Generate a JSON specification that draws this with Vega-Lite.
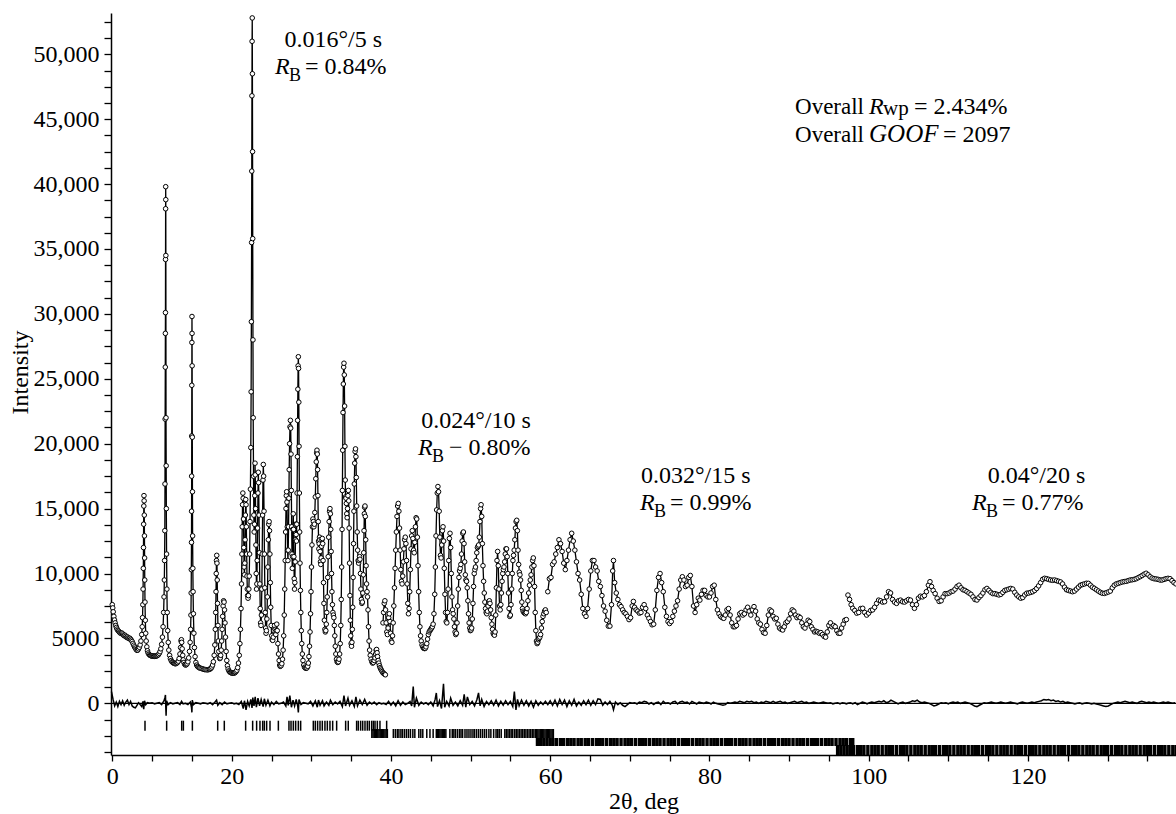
{
"$schema": "https://vega.github.io/schema/vega-lite/v6.json",
"width": 1065, "height": 742,
"autosize": {"type": "none"},
"padding": {"left": 111, "top": 13, "right": 0, "bottom": 59},
"background": "white",
"config": {"view": {"stroke": null}, "font": "Liberation Serif",
 "axis": {"grid": false, "domainColor": "black", "domainWidth": 1.5, "tickColor": "black", "tickWidth": 1.3,
  "labelFont": "Liberation Serif", "labelFontSize": 24, "labelColor": "black", "labelOverlap": false, "labelFlush": false,
  "titleFont": "Liberation Serif", "titleFontSize": 24, "titleFontWeight": "normal", "titleColor": "black"}},
"datasets": {
"one": [{}],
"obs": [
{"s":1,"t":5.0,"o":7600},{"s":1,"t":5.06,"o":7350},{"s":1,"t":5.12,"o":7050},{"s":1,"t":5.2,"o":6700},{"s":1,"t":5.28,"o":6420},{"s":1,"t":5.36,"o":6200},{"s":1,"t":5.44,"o":6000},{"s":1,"t":5.52,"o":5850},{"s":1,"t":5.6,"o":5720},{"s":1,"t":5.7,"o":5620},{"s":1,"t":5.8,"o":5560},{"s":1,"t":5.9,"o":5480},{"s":1,"t":6.0,"o":5420},{"s":1,"t":6.1,"o":5380},{"s":1,"t":6.2,"o":5420},{"s":1,"t":6.3,"o":5350},{"s":1,"t":6.4,"o":5260},{"s":1,"t":6.5,"o":5200},{"s":1,"t":6.6,"o":5250},{"s":1,"t":6.7,"o":5160},{"s":1,"t":6.8,"o":5080},{"s":1,"t":6.9,"o":5120},{"s":1,"t":7.0,"o":5040},{"s":1,"t":7.1,"o":4980},{"s":1,"t":7.2,"o":5020},{"s":1,"t":7.3,"o":4940},{"s":1,"t":7.4,"o":4860},{"s":1,"t":7.5,"o":4760},{"s":1,"t":7.6,"o":4620},{"s":1,"t":7.7,"o":4480},{"s":1,"t":7.8,"o":4350},{"s":1,"t":7.9,"o":4250},{"s":1,"t":8.0,"o":4150},{"s":1,"t":8.1,"o":4080},{"s":1,"t":8.2,"o":4100},{"s":1,"t":8.3,"o":4200},{"s":1,"t":8.4,"o":4320},{"s":1,"t":8.5,"o":4500},{"s":1,"t":8.6,"o":4800},{"s":1,"t":8.7,"o":5300},{"s":1,"t":8.76,"o":5900},{"s":1,"t":8.8,"o":6600},{"s":1,"t":8.84,"o":7600},{"s":1,"t":8.87,"o":8800},{"s":1,"t":8.9,"o":10400},{"s":1,"t":8.92,"o":12000},{"s":1,"t":8.94,"o":13800},{"s":1,"t":8.96,"o":15200},{"s":1,"t":8.98,"o":16000},{"s":1,"t":9.0,"o":15600},{"s":1,"t":9.02,"o":14500},{"s":1,"t":9.04,"o":12900},{"s":1,"t":9.06,"o":11200},{"s":1,"t":9.08,"o":9500},{"s":1,"t":9.11,"o":7800},{"s":1,"t":9.15,"o":6400},{"s":1,"t":9.2,"o":5400},{"s":1,"t":9.26,"o":4800},{"s":1,"t":9.34,"o":4350},{"s":1,"t":9.42,"o":4050},{"s":1,"t":9.5,"o":3880},{"s":1,"t":9.6,"o":3780},{"s":1,"t":9.7,"o":3720},{"s":1,"t":9.8,"o":3680},{"s":1,"t":9.9,"o":3660},{"s":1,"t":10.0,"o":3640},{"s":1,"t":10.1,"o":3650},{"s":1,"t":10.2,"o":3630},{"s":1,"t":10.3,"o":3620},{"s":1,"t":10.4,"o":3650},{"s":1,"t":10.5,"o":3640},{"s":1,"t":10.6,"o":3660},{"s":1,"t":10.7,"o":3700},{"s":1,"t":10.8,"o":3750},{"s":1,"t":10.9,"o":3850},{"s":1,"t":11.0,"o":3980},{"s":1,"t":11.1,"o":4200},{"s":1,"t":11.2,"o":4550},{"s":1,"t":11.3,"o":5100},{"s":1,"t":11.38,"o":5900},{"s":1,"t":11.45,"o":7000},{"s":1,"t":11.5,"o":8200},{"s":1,"t":11.54,"o":9500},{"s":1,"t":11.57,"o":11000},{"s":1,"t":11.6,"o":13300},{"s":1,"t":11.62,"o":16900},{"s":1,"t":11.64,"o":21900},{"s":1,"t":11.66,"o":25900},{"s":1,"t":11.67,"o":28500},{"s":1,"t":11.68,"o":30100},{"s":1,"t":11.69,"o":34200},{"s":1,"t":11.7,"o":38100},{"s":1,"t":11.71,"o":39800},{"s":1,"t":11.72,"o":38800},{"s":1,"t":11.73,"o":34500},{"s":1,"t":11.75,"o":22000},{"s":1,"t":11.77,"o":18300},{"s":1,"t":11.79,"o":15000},{"s":1,"t":11.82,"o":11500},{"s":1,"t":11.86,"o":8800},{"s":1,"t":11.9,"o":7000},{"s":1,"t":11.96,"o":5600},{"s":1,"t":12.03,"o":4700},{"s":1,"t":12.1,"o":4100},{"s":1,"t":12.2,"o":3700},{"s":1,"t":12.3,"o":3450},{"s":1,"t":12.4,"o":3300},{"s":1,"t":12.5,"o":3200},{"s":1,"t":12.6,"o":3150},{"s":1,"t":12.7,"o":3100},{"s":1,"t":12.8,"o":3080},{"s":1,"t":12.9,"o":3050},{"s":1,"t":13.0,"o":3060},{"s":1,"t":13.1,"o":3100},{"s":1,"t":13.2,"o":3150},{"s":1,"t":13.3,"o":3250},{"s":1,"t":13.4,"o":3450},{"s":1,"t":13.5,"o":3800},{"s":1,"t":13.58,"o":4300},{"s":1,"t":13.64,"o":4800},{"s":1,"t":13.68,"o":4900},{"s":1,"t":13.72,"o":4700},{"s":1,"t":13.78,"o":4200},{"s":1,"t":13.85,"o":3700},{"s":1,"t":13.92,"o":3350},{"s":1,"t":14.0,"o":3150},{"s":1,"t":14.1,"o":3000},{"s":1,"t":14.2,"o":2950},{"s":1,"t":14.3,"o":2980},{"s":1,"t":14.4,"o":3050},{"s":1,"t":14.5,"o":3200},{"s":1,"t":14.6,"o":3500},{"s":1,"t":14.7,"o":4000},{"s":1,"t":14.78,"o":4700},{"s":1,"t":14.84,"o":5700},{"s":1,"t":14.88,"o":6800},{"s":1,"t":14.91,"o":8500},{"s":1,"t":14.93,"o":10300},{"s":1,"t":14.95,"o":12400},{"s":1,"t":14.96,"o":14800},{"s":1,"t":14.97,"o":17500},{"s":1,"t":14.98,"o":20600},{"s":1,"t":14.99,"o":24500},{"s":1,"t":15.0,"o":27800},{"s":1,"t":15.01,"o":29800},{"s":1,"t":15.02,"o":28500},{"s":1,"t":15.03,"o":26000},{"s":1,"t":15.05,"o":20500},{"s":1,"t":15.07,"o":16300},{"s":1,"t":15.09,"o":12900},{"s":1,"t":15.12,"o":10400},{"s":1,"t":15.15,"o":8600},{"s":1,"t":15.19,"o":6900},{"s":1,"t":15.25,"o":5400},{"s":1,"t":15.32,"o":4300},{"s":1,"t":15.4,"o":3600},{"s":1,"t":15.5,"o":3150},{"s":1,"t":15.6,"o":2950},{"s":1,"t":15.7,"o":2850},{"s":1,"t":15.8,"o":2800},{"s":1,"t":15.9,"o":2750},{"s":1,"t":16.0,"o":2720},{"s":1,"t":16.15,"o":2690},{"s":1,"t":16.3,"o":2660},{"s":1,"t":16.45,"o":2630},{"s":1,"t":16.6,"o":2600},{"s":1,"t":16.75,"o":2600},{"s":1,"t":16.9,"o":2580},{"s":1,"t":17.05,"o":2590},{"s":1,"t":17.2,"o":2620},{"s":1,"t":17.3,"o":2650},{"s":1,"t":17.4,"o":2700},{"s":1,"t":17.5,"o":2800},{"s":1,"t":17.6,"o":2950},{"s":1,"t":17.7,"o":3200},{"s":1,"t":17.8,"o":3700},{"s":1,"t":17.88,"o":4500},{"s":1,"t":17.94,"o":5700},{"s":1,"t":17.99,"o":7000},{"s":1,"t":18.03,"o":8600},{"s":1,"t":18.06,"o":10000},{"s":1,"t":18.09,"o":11000},{"s":1,"t":18.12,"o":11400},{"s":1,"t":18.15,"o":10800},{"s":1,"t":18.18,"o":9500},{"s":1,"t":18.22,"o":7700},{"s":1,"t":18.27,"o":6000},{"s":1,"t":18.32,"o":4800},{"s":1,"t":18.38,"o":4000},{"s":1,"t":18.44,"o":3600},{"s":1,"t":18.5,"o":3450},{"s":1,"t":18.56,"o":3500},{"s":1,"t":18.62,"o":3700},{"s":1,"t":18.68,"o":4100},{"s":1,"t":18.74,"o":4800},{"s":1,"t":18.8,"o":5700},{"s":1,"t":18.86,"o":6700},{"s":1,"t":18.92,"o":7500},{"s":1,"t":18.98,"o":7900},{"s":1,"t":19.04,"o":7800},{"s":1,"t":19.1,"o":7200},{"s":1,"t":19.16,"o":6200},{"s":1,"t":19.22,"o":5100},{"s":1,"t":19.3,"o":4000},{"s":1,"t":19.38,"o":3300},{"s":1,"t":19.46,"o":2900},{"s":1,"t":19.55,"o":2650},{"s":1,"t":19.65,"o":2500},{"s":1,"t":19.75,"o":2420},{"s":1,"t":19.85,"o":2380},{"s":1,"t":19.95,"o":2350},{"s":1,"t":20.05,"o":2330},{"s":1,"t":20.15,"o":2320},{"s":1,"t":20.25,"o":2330},{"s":1,"t":20.35,"o":2340},{"s":1,"t":20.45,"o":2380},{"s":1,"t":20.55,"o":2450},{"s":1,"t":20.65,"o":2550},{"s":1,"t":20.75,"o":2750},{"s":1,"t":20.85,"o":3100},{"s":1,"t":20.95,"o":3700},{"s":1,"t":21.03,"o":4600},{"s":1,"t":21.1,"o":5700},{"s":1,"t":21.17,"o":7300},{"s":1,"t":21.23,"o":9200},{"s":1,"t":21.28,"o":11500},{"s":1,"t":21.32,"o":13600},{"s":1,"t":21.36,"o":15300},{"s":1,"t":21.4,"o":16200},{"s":1,"t":21.44,"o":15800},{"s":1,"t":21.48,"o":14200},{"s":1,"t":21.52,"o":12000},{"s":1,"t":21.56,"o":10500},{"s":1,"t":21.6,"o":9900},{"s":1,"t":21.64,"o":10800},{"s":1,"t":21.68,"o":12600},{"s":1,"t":21.72,"o":14500},{"s":1,"t":21.76,"o":15700},{"s":1,"t":21.8,"o":15300},{"s":1,"t":21.84,"o":13600},{"s":1,"t":21.88,"o":11500},{"s":1,"t":21.92,"o":9800},{"s":1,"t":21.96,"o":8800},{"s":1,"t":22.0,"o":8300},{"s":1,"t":22.05,"o":8100},{"s":1,"t":22.1,"o":8300},{"s":1,"t":22.15,"o":8800},{"s":1,"t":22.2,"o":9800},{"s":1,"t":22.25,"o":11500},{"s":1,"t":22.3,"o":14000},{"s":1,"t":22.35,"o":16500},{"s":1,"t":22.4,"o":19700},{"s":1,"t":22.44,"o":24000},{"s":1,"t":22.47,"o":29400},{"s":1,"t":22.5,"o":35500},{"s":1,"t":22.52,"o":41000},{"s":1,"t":22.54,"o":46800},{"s":1,"t":22.56,"o":51000},{"s":1,"t":22.58,"o":52800},{"s":1,"t":22.6,"o":48500},{"s":1,"t":22.62,"o":42500},{"s":1,"t":22.64,"o":35800},{"s":1,"t":22.67,"o":28000},{"s":1,"t":22.7,"o":22000},{"s":1,"t":22.74,"o":17500},{"s":1,"t":22.78,"o":14500},{"s":1,"t":22.82,"o":13200},{"s":1,"t":22.86,"o":13800},{"s":1,"t":22.9,"o":16000},{"s":1,"t":22.93,"o":18500},{"s":1,"t":22.96,"o":17600},{"s":1,"t":23.0,"o":15000},{"s":1,"t":23.04,"o":12200},{"s":1,"t":23.08,"o":10000},{"s":1,"t":23.12,"o":8800},{"s":1,"t":23.16,"o":9200},{"s":1,"t":23.2,"o":11000},{"s":1,"t":23.25,"o":13500},{"s":1,"t":23.3,"o":16200},{"s":1,"t":23.34,"o":17800},{"s":1,"t":23.38,"o":17000},{"s":1,"t":23.43,"o":14500},{"s":1,"t":23.48,"o":11600},{"s":1,"t":23.53,"o":9200},{"s":1,"t":23.58,"o":7300},{"s":1,"t":23.63,"o":6200},{"s":1,"t":23.68,"o":6000},{"s":1,"t":23.73,"o":6800},{"s":1,"t":23.78,"o":8800},{"s":1,"t":23.83,"o":11500},{"s":1,"t":23.88,"o":14500},{"s":1,"t":23.93,"o":17200},{"s":1,"t":23.97,"o":18400},{"s":1,"t":24.01,"o":17500},{"s":1,"t":24.06,"o":14800},{"s":1,"t":24.11,"o":11500},{"s":1,"t":24.16,"o":8900},{"s":1,"t":24.21,"o":7000},{"s":1,"t":24.26,"o":5800},{"s":1,"t":24.31,"o":5400},{"s":1,"t":24.36,"o":5600},{"s":1,"t":24.42,"o":6500},{"s":1,"t":24.48,"o":8200},{"s":1,"t":24.54,"o":10500},{"s":1,"t":24.6,"o":12600},{"s":1,"t":24.65,"o":13800},{"s":1,"t":24.7,"o":14000},{"s":1,"t":24.75,"o":13300},{"s":1,"t":24.8,"o":11500},{"s":1,"t":24.85,"o":9300},{"s":1,"t":24.9,"o":7400},{"s":1,"t":24.96,"o":6000},{"s":1,"t":25.02,"o":5200},{"s":1,"t":25.08,"o":4900},{"s":1,"t":25.15,"o":4850},{"s":1,"t":25.22,"o":5100},{"s":1,"t":25.3,"o":5600},{"s":1,"t":25.38,"o":6000},{"s":1,"t":25.46,"o":5700},{"s":1,"t":25.54,"o":5300},{"s":1,"t":25.6,"o":5600},{"s":1,"t":25.66,"o":6100},{"s":1,"t":25.72,"o":5600},{"s":1,"t":25.8,"o":4600},{"s":1,"t":25.88,"o":3800},{"s":1,"t":25.96,"o":3300},{"s":1,"t":26.03,"o":2950},
{"s":1,"t":26.1,"o":2850},{"s":1,"t":26.2,"o":2900},{"s":1,"t":26.3,"o":3050},{"s":1,"t":26.38,"o":3400},{"s":1,"t":26.46,"o":4100},{"s":1,"t":26.53,"o":5200},{"s":1,"t":26.6,"o":6800},{"s":1,"t":26.66,"o":8800},{"s":1,"t":26.72,"o":11000},{"s":1,"t":26.77,"o":13200},{"s":1,"t":26.82,"o":15000},{"s":1,"t":26.86,"o":16000},{"s":1,"t":26.9,"o":16300},{"s":1,"t":26.94,"o":15500},{"s":1,"t":26.98,"o":13600},{"s":1,"t":27.02,"o":11800},{"s":1,"t":27.06,"o":11000},{"s":1,"t":27.1,"o":11800},{"s":1,"t":27.14,"o":13600},{"s":1,"t":27.18,"o":15800},{"s":1,"t":27.22,"o":18000},{"s":1,"t":27.27,"o":20000},{"s":1,"t":27.32,"o":21300},{"s":1,"t":27.37,"o":21800},{"s":1,"t":27.41,"o":21200},{"s":1,"t":27.45,"o":19200},{"s":1,"t":27.49,"o":16400},{"s":1,"t":27.53,"o":13600},{"s":1,"t":27.57,"o":11500},{"s":1,"t":27.61,"o":10400},{"s":1,"t":27.65,"o":11300},{"s":1,"t":27.69,"o":13400},{"s":1,"t":27.73,"o":14600},{"s":1,"t":27.77,"o":13400},{"s":1,"t":27.81,"o":11300},{"s":1,"t":27.85,"o":9600},{"s":1,"t":27.89,"o":8800},{"s":1,"t":27.93,"o":9300},{"s":1,"t":27.97,"o":10900},{"s":1,"t":28.01,"o":12600},{"s":1,"t":28.05,"o":13800},{"s":1,"t":28.09,"o":13000},{"s":1,"t":28.13,"o":12500},{"s":1,"t":28.17,"o":13800},{"s":1,"t":28.21,"o":16200},{"s":1,"t":28.25,"o":19000},{"s":1,"t":28.28,"o":21800},{"s":1,"t":28.31,"o":24200},{"s":1,"t":28.34,"o":26000},{"s":1,"t":28.37,"o":26700},{"s":1,"t":28.4,"o":25800},{"s":1,"t":28.43,"o":23200},{"s":1,"t":28.46,"o":19800},{"s":1,"t":28.5,"o":16200},{"s":1,"t":28.54,"o":13200},{"s":1,"t":28.58,"o":10800},{"s":1,"t":28.63,"o":8700},{"s":1,"t":28.68,"o":7000},{"s":1,"t":28.74,"o":5600},{"s":1,"t":28.8,"o":4600},{"s":1,"t":28.87,"o":3800},{"s":1,"t":28.95,"o":3300},{"s":1,"t":29.05,"o":2950},{"s":1,"t":29.15,"o":2780},{"s":1,"t":29.25,"o":2720},{"s":1,"t":29.35,"o":2700},{"s":1,"t":29.45,"o":2730},{"s":1,"t":29.55,"o":2850},
{"s":1,"t":29.63,"o":3100},{"s":1,"t":29.7,"o":3600},{"s":1,"t":29.77,"o":4400},{"s":1,"t":29.84,"o":5500},{"s":1,"t":29.9,"o":6900},{"s":1,"t":29.96,"o":8600},{"s":1,"t":30.02,"o":10500},{"s":1,"t":30.08,"o":12200},{"s":1,"t":30.14,"o":13600},{"s":1,"t":30.2,"o":14200},{"s":1,"t":30.26,"o":14000},{"s":1,"t":30.32,"o":13600},{"s":1,"t":30.38,"o":13800},{"s":1,"t":30.44,"o":14700},{"s":1,"t":30.5,"o":15900},{"s":1,"t":30.56,"o":17300},{"s":1,"t":30.62,"o":18600},{"s":1,"t":30.67,"o":19300},{"s":1,"t":30.71,"o":19500},{"s":1,"t":30.75,"o":19200},{"s":1,"t":30.79,"o":18000},{"s":1,"t":30.83,"o":16000},{"s":1,"t":30.87,"o":14000},{"s":1,"t":30.91,"o":12500},{"s":1,"t":30.95,"o":11900},{"s":1,"t":30.99,"o":12300},{"s":1,"t":31.03,"o":12800},{"s":1,"t":31.07,"o":12600},{"s":1,"t":31.11,"o":11700},{"s":1,"t":31.15,"o":10900},{"s":1,"t":31.19,"o":10700},{"s":1,"t":31.23,"o":11200},{"s":1,"t":31.28,"o":12100},{"s":1,"t":31.33,"o":12600},{"s":1,"t":31.38,"o":12700},{"s":1,"t":31.43,"o":12300},{"s":1,"t":31.48,"o":11000},{"s":1,"t":31.53,"o":9300},{"s":1,"t":31.58,"o":7700},{"s":1,"t":31.64,"o":6400},{"s":1,"t":31.7,"o":5700},{"s":1,"t":31.76,"o":5500},{"s":1,"t":31.82,"o":5600},{"s":1,"t":31.88,"o":6100},{"s":1,"t":31.94,"o":7000},{"s":1,"t":32.0,"o":8200},{"s":1,"t":32.06,"o":9700},{"s":1,"t":32.12,"o":11300},{"s":1,"t":32.18,"o":12800},{"s":1,"t":32.24,"o":14000},{"s":1,"t":32.29,"o":14800},{"s":1,"t":32.34,"o":15000},{"s":1,"t":32.39,"o":14600},{"s":1,"t":32.44,"o":13400},{"s":1,"t":32.49,"o":11700},{"s":1,"t":32.54,"o":10000},{"s":1,"t":32.59,"o":8600},{"s":1,"t":32.65,"o":7600},{"s":1,"t":32.71,"o":7000},{"s":1,"t":32.77,"o":6800},{"s":1,"t":32.83,"o":6600},{"s":1,"t":32.89,"o":6000},{"s":1,"t":32.95,"o":5200},{"s":1,"t":33.01,"o":4400},{"s":1,"t":33.08,"o":3800},{"s":1,"t":33.16,"o":3400},{"s":1,"t":33.24,"o":3200},{"s":1,"t":33.32,"o":3150},{"s":1,"t":33.4,"o":3200},
{"s":1,"t":33.48,"o":3400},{"s":1,"t":33.56,"o":3800},{"s":1,"t":33.63,"o":4600},{"s":1,"t":33.7,"o":6000},{"s":1,"t":33.76,"o":8000},{"s":1,"t":33.81,"o":10500},{"s":1,"t":33.86,"o":13400},{"s":1,"t":33.9,"o":16400},{"s":1,"t":33.94,"o":19500},{"s":1,"t":33.98,"o":22400},{"s":1,"t":34.02,"o":24600},{"s":1,"t":34.06,"o":25900},{"s":1,"t":34.1,"o":26200},{"s":1,"t":34.14,"o":25300},{"s":1,"t":34.18,"o":22900},{"s":1,"t":34.22,"o":19800},{"s":1,"t":34.26,"o":17200},{"s":1,"t":34.3,"o":15900},{"s":1,"t":34.35,"o":15800},{"s":1,"t":34.4,"o":15400},{"s":1,"t":34.45,"o":14600},{"s":1,"t":34.5,"o":14300},{"s":1,"t":34.55,"o":15000},{"s":1,"t":34.6,"o":16000},{"s":1,"t":34.65,"o":16400},{"s":1,"t":34.7,"o":15600},{"s":1,"t":34.75,"o":13500},{"s":1,"t":34.8,"o":10800},{"s":1,"t":34.85,"o":8300},{"s":1,"t":34.9,"o":6400},{"s":1,"t":34.95,"o":5200},{"s":1,"t":35.0,"o":4600},{"s":1,"t":35.05,"o":4400},{"s":1,"t":35.1,"o":4700},{"s":1,"t":35.15,"o":5700},{"s":1,"t":35.2,"o":7400},{"s":1,"t":35.25,"o":9700},{"s":1,"t":35.3,"o":12300},{"s":1,"t":35.35,"o":14800},{"s":1,"t":35.4,"o":16900},{"s":1,"t":35.45,"o":18500},{"s":1,"t":35.5,"o":19400},{"s":1,"t":35.55,"o":19600},{"s":1,"t":35.6,"o":19000},{"s":1,"t":35.65,"o":17400},{"s":1,"t":35.7,"o":15200},{"s":1,"t":35.76,"o":13200},{"s":1,"t":35.82,"o":11800},{"s":1,"t":35.88,"o":11000},{"s":1,"t":35.94,"o":10800},{"s":1,"t":36.0,"o":11000},{"s":1,"t":36.06,"o":11300},{"s":1,"t":36.11,"o":11100},{"s":1,"t":36.17,"o":10000},{"s":1,"t":36.23,"o":8800},{"s":1,"t":36.29,"o":8000},{"s":1,"t":36.35,"o":7700},{"s":1,"t":36.41,"o":7800},{"s":1,"t":36.47,"o":8500},{"s":1,"t":36.53,"o":9900},{"s":1,"t":36.58,"o":11600},{"s":1,"t":36.62,"o":13300},{"s":1,"t":36.66,"o":14600},{"s":1,"t":36.7,"o":15100},{"s":1,"t":36.74,"o":15200},{"s":1,"t":36.78,"o":14400},{"s":1,"t":36.83,"o":12600},{"s":1,"t":36.88,"o":10600},{"s":1,"t":36.94,"o":9200},{"s":1,"t":37.0,"o":8600},{"s":1,"t":37.06,"o":8200},{"s":1,"t":37.12,"o":7200},{"s":1,"t":37.18,"o":5900},{"s":1,"t":37.25,"o":4800},{"s":1,"t":37.32,"o":4100},{"s":1,"t":37.4,"o":3700},{"s":1,"t":37.5,"o":3400},{"s":1,"t":37.6,"o":3200},{"s":1,"t":37.7,"o":3100},{"s":1,"t":37.8,"o":3150},{"s":1,"t":37.9,"o":3300},{"s":1,"t":38.0,"o":3500},{"s":1,"t":38.08,"o":3800},{"s":1,"t":38.14,"o":4100},{"s":1,"t":38.2,"o":4150},{"s":1,"t":38.26,"o":3900},{"s":1,"t":38.32,"o":3600},{"s":1,"t":38.4,"o":3300},{"s":1,"t":38.48,"o":3100},{"s":1,"t":38.56,"o":2900},{"s":1,"t":38.64,"o":2750},{"s":1,"t":38.72,"o":2650},{"s":1,"t":38.8,"o":2550},{"s":1,"t":38.9,"o":2450},{"s":1,"t":39.0,"o":2350},{"s":1,"t":39.1,"o":2300},{"s":1,"t":39.2,"o":2250},{"s":1,"t":39.3,"o":2200},
{"s":2,"t":39.0,"o":6200},{"s":2,"t":39.08,"o":7000},{"s":2,"t":39.16,"o":7700},{"s":2,"t":39.24,"o":7900},{"s":2,"t":39.32,"o":7200},{"s":2,"t":39.4,"o":6200},{"s":2,"t":39.48,"o":5500},{"s":2,"t":39.56,"o":5300},{"s":2,"t":39.64,"o":5800},{"s":2,"t":39.72,"o":6600},{"s":2,"t":39.8,"o":6900},{"s":2,"t":39.88,"o":6300},{"s":2,"t":39.96,"o":5400},{"s":2,"t":40.04,"o":4800},{"s":2,"t":40.12,"o":4700},{"s":2,"t":40.2,"o":5200},{"s":2,"t":40.28,"o":6200},{"s":2,"t":40.36,"o":7500},{"s":2,"t":40.44,"o":8900},{"s":2,"t":40.52,"o":10400},{"s":2,"t":40.6,"o":11800},{"s":2,"t":40.68,"o":13200},{"s":2,"t":40.76,"o":14400},{"s":2,"t":40.84,"o":15200},{"s":2,"t":40.92,"o":15400},{"s":2,"t":41.0,"o":14800},{"s":2,"t":41.08,"o":13500},{"s":2,"t":41.16,"o":11800},{"s":2,"t":41.24,"o":10300},{"s":2,"t":41.32,"o":9400},{"s":2,"t":41.4,"o":9200},{"s":2,"t":41.48,"o":9800},{"s":2,"t":41.56,"o":10900},{"s":2,"t":41.64,"o":11900},{"s":2,"t":41.72,"o":12600},{"s":2,"t":41.8,"o":12800},{"s":2,"t":41.88,"o":12300},{"s":2,"t":41.96,"o":11000},{"s":2,"t":42.04,"o":9200},{"s":2,"t":42.12,"o":7700},{"s":2,"t":42.2,"o":6900},{"s":2,"t":42.28,"o":7300},{"s":2,"t":42.36,"o":8600},{"s":2,"t":42.44,"o":10300},{"s":2,"t":42.52,"o":11900},{"s":2,"t":42.6,"o":12900},{"s":2,"t":42.68,"o":13300},{"s":2,"t":42.76,"o":12700},{"s":2,"t":42.84,"o":11800},{"s":2,"t":42.92,"o":11600},{"s":2,"t":43.0,"o":12400},{"s":2,"t":43.08,"o":13600},{"s":2,"t":43.16,"o":14300},{"s":2,"t":43.24,"o":14200},{"s":2,"t":43.32,"o":12800},{"s":2,"t":43.4,"o":10600},{"s":2,"t":43.48,"o":8600},{"s":2,"t":43.56,"o":7000},{"s":2,"t":43.64,"o":5900},{"s":2,"t":43.72,"o":5200},{"s":2,"t":43.8,"o":4800},{"s":2,"t":43.9,"o":4500},{"s":2,"t":44.0,"o":4350},{"s":2,"t":44.1,"o":4250},{"s":2,"t":44.2,"o":4220},{"s":2,"t":44.3,"o":4230},{"s":2,"t":44.4,"o":4350},{"s":2,"t":44.5,"o":4600},{"s":2,"t":44.6,"o":4950},{"s":2,"t":44.7,"o":5300},{"s":2,"t":44.8,"o":5500},{"s":2,"t":44.9,"o":5600},{"s":2,"t":45.0,"o":5700},{"s":2,"t":45.1,"o":5800},{"s":2,"t":45.2,"o":5900},{"s":2,"t":45.3,"o":6100},{"s":2,"t":45.4,"o":6900},{"s":2,"t":45.5,"o":8400},{"s":2,"t":45.58,"o":10500},{"s":2,"t":45.66,"o":12900},{"s":2,"t":45.74,"o":14900},{"s":2,"t":45.82,"o":16200},{"s":2,"t":45.9,"o":16700},{"s":2,"t":45.98,"o":16300},{"s":2,"t":46.06,"o":14800},{"s":2,"t":46.14,"o":12800},{"s":2,"t":46.22,"o":11400},{"s":2,"t":46.3,"o":11200},{"s":2,"t":46.38,"o":12200},{"s":2,"t":46.46,"o":13300},{"s":2,"t":46.54,"o":13600},{"s":2,"t":46.62,"o":12500},{"s":2,"t":46.7,"o":10400},{"s":2,"t":46.78,"o":8400},{"s":2,"t":46.86,"o":7000},{"s":2,"t":46.94,"o":6300},{"s":2,"t":47.02,"o":6200},{"s":2,"t":47.1,"o":7000},{"s":2,"t":47.18,"o":8800},{"s":2,"t":47.26,"o":11000},{"s":2,"t":47.34,"o":12700},{"s":2,"t":47.42,"o":13100},{"s":2,"t":47.5,"o":12000},{"s":2,"t":47.58,"o":10000},{"s":2,"t":47.66,"o":8200},{"s":2,"t":47.74,"o":7200},{"s":2,"t":47.82,"o":6900},{"s":2,"t":47.9,"o":6500},{"s":2,"t":47.98,"o":5900},{"s":2,"t":48.06,"o":5500},{"s":2,"t":48.14,"o":5300},{"s":2,"t":48.22,"o":5400},{"s":2,"t":48.3,"o":6200},{"s":2,"t":48.38,"o":7500},{"s":2,"t":48.46,"o":8800},{"s":2,"t":48.54,"o":9700},{"s":2,"t":48.62,"o":10200},{"s":2,"t":48.7,"o":10400},{"s":2,"t":48.78,"o":10700},{"s":2,"t":48.86,"o":11500},{"s":2,"t":48.94,"o":12500},{"s":2,"t":49.02,"o":13100},{"s":2,"t":49.1,"o":13200},{"s":2,"t":49.18,"o":12300},{"s":2,"t":49.26,"o":10900},{"s":2,"t":49.34,"o":9900},{"s":2,"t":49.42,"o":9500},{"s":2,"t":49.5,"o":9400},{"s":2,"t":49.58,"o":8900},{"s":2,"t":49.66,"o":7900},{"s":2,"t":49.74,"o":6900},{"s":2,"t":49.82,"o":6200},{"s":2,"t":49.9,"o":5800},{"s":2,"t":49.98,"o":5600},{"s":2,"t":50.06,"o":5650},{"s":2,"t":50.14,"o":5800},{"s":2,"t":50.22,"o":6500},{"s":2,"t":50.3,"o":7700},{"s":2,"t":50.38,"o":9000},{"s":2,"t":50.46,"o":10000},{"s":2,"t":50.54,"o":10300},{"s":2,"t":50.62,"o":10500},{"s":2,"t":50.7,"o":11000},{"s":2,"t":50.78,"o":11600},{"s":2,"t":50.86,"o":12000},{"s":2,"t":50.94,"o":12100},{"s":2,"t":51.02,"o":12200},{"s":2,"t":51.1,"o":12800},{"s":2,"t":51.18,"o":14000},{"s":2,"t":51.26,"o":15000},{"s":2,"t":51.32,"o":15300},{"s":2,"t":51.4,"o":14400},{"s":2,"t":51.48,"o":12300},{"s":2,"t":51.56,"o":10600},{"s":2,"t":51.64,"o":9400},{"s":2,"t":51.72,"o":8500},{"s":2,"t":51.8,"o":7800},{"s":2,"t":51.88,"o":7300},{"s":2,"t":51.96,"o":7000},{"s":2,"t":52.04,"o":6900},{"s":2,"t":52.12,"o":7100},{"s":2,"t":52.2,"o":7500},{"s":2,"t":52.28,"o":7800},{"s":2,"t":52.36,"o":7900},{"s":2,"t":52.44,"o":7700},{"s":2,"t":52.52,"o":7200},{"s":2,"t":52.6,"o":6600},{"s":2,"t":52.68,"o":6100},{"s":2,"t":52.76,"o":5700},{"s":2,"t":52.84,"o":5400},{"s":2,"t":52.92,"o":5300},{"s":2,"t":53.0,"o":5250},{"s":2,"t":53.08,"o":5500},{"s":2,"t":53.16,"o":6800},{"s":2,"t":53.24,"o":8900},{"s":2,"t":53.32,"o":11000},{"s":2,"t":53.4,"o":11700},{"s":2,"t":53.48,"o":10600},{"s":2,"t":53.56,"o":8800},{"s":2,"t":53.64,"o":7500},{"s":2,"t":53.72,"o":7200},{"s":2,"t":53.8,"o":7600},{"s":2,"t":53.88,"o":8500},{"s":2,"t":53.96,"o":9400},{"s":2,"t":54.04,"o":10000},{"s":2,"t":54.12,"o":10300},{"s":2,"t":54.2,"o":10500},{"s":2,"t":54.28,"o":10900},{"s":2,"t":54.36,"o":11500},{"s":2,"t":54.44,"o":11900},{"s":2,"t":54.52,"o":11900},{"s":2,"t":54.6,"o":11300},{"s":2,"t":54.68,"o":10000},{"s":2,"t":54.76,"o":8500},{"s":2,"t":54.84,"o":7300},{"s":2,"t":54.92,"o":6700},{"s":2,"t":55.0,"o":6800},{"s":2,"t":55.08,"o":7600},{"s":2,"t":55.16,"o":8800},{"s":2,"t":55.24,"o":10000},{"s":2,"t":55.32,"o":11000},{"s":2,"t":55.4,"o":11400},{"s":2,"t":55.48,"o":11800},{"s":2,"t":55.56,"o":12600},{"s":2,"t":55.64,"o":13500},{"s":2,"t":55.72,"o":14000},{"s":2,"t":55.8,"o":14100},{"s":2,"t":55.88,"o":13300},{"s":2,"t":55.96,"o":11800},{"s":2,"t":56.04,"o":10700},{"s":2,"t":56.12,"o":10100},{"s":2,"t":56.2,"o":9900},{"s":2,"t":56.28,"o":9500},{"s":2,"t":56.36,"o":8700},{"s":2,"t":56.44,"o":7800},{"s":2,"t":56.52,"o":7300},{"s":2,"t":56.6,"o":7100},{"s":2,"t":56.7,"o":7000},{"s":2,"t":56.8,"o":6950},{"s":2,"t":56.9,"o":6900},{"s":2,"t":57.0,"o":7000},{"s":2,"t":57.1,"o":7300},{"s":2,"t":57.2,"o":7900},{"s":2,"t":57.3,"o":8500},{"s":2,"t":57.4,"o":9100},{"s":2,"t":57.5,"o":9500},{"s":2,"t":57.6,"o":9900},{"s":2,"t":57.7,"o":10500},{"s":2,"t":57.8,"o":11000},{"s":2,"t":57.88,"o":11200},{"s":2,"t":57.96,"o":10600},{"s":2,"t":58.04,"o":9000},{"s":2,"t":58.12,"o":7000},{"s":2,"t":58.2,"o":5600},{"s":2,"t":58.28,"o":4800},{"s":2,"t":58.36,"o":4600},{"s":2,"t":58.44,"o":4700},{"s":2,"t":58.52,"o":4900},{"s":2,"t":58.6,"o":5000},{"s":2,"t":58.7,"o":5100},{"s":2,"t":58.8,"o":5300},{"s":2,"t":58.9,"o":5800},{"s":2,"t":59.0,"o":6300},{"s":2,"t":59.1,"o":6700},{"s":2,"t":59.2,"o":6900},{"s":2,"t":59.3,"o":7100},{"s":2,"t":59.4,"o":7200},{"s":2,"t":59.5,"o":7000},
{"s":3,"t":59.7,"o":8600},{"s":3,"t":59.9,"o":9600},{"s":3,"t":60.1,"o":9700},{"s":3,"t":60.3,"o":10700},{"s":3,"t":60.5,"o":10900},{"s":3,"t":60.7,"o":11500},{"s":3,"t":60.9,"o":12000},{"s":3,"t":61.1,"o":12600},{"s":3,"t":61.3,"o":12300},{"s":3,"t":61.5,"o":11700},{"s":3,"t":61.7,"o":10800},{"s":3,"t":61.9,"o":10300},{"s":3,"t":62.1,"o":11000},{"s":3,"t":62.3,"o":11800},{"s":3,"t":62.5,"o":12600},{"s":3,"t":62.7,"o":13100},{"s":3,"t":62.9,"o":12500},{"s":3,"t":63.1,"o":11800},{"s":3,"t":63.3,"o":10900},{"s":3,"t":63.5,"o":10000},{"s":3,"t":63.7,"o":9500},{"s":3,"t":63.9,"o":8400},{"s":3,"t":64.1,"o":7300},{"s":3,"t":64.3,"o":6900},{"s":3,"t":64.5,"o":6700},{"s":3,"t":64.7,"o":7300},{"s":3,"t":64.9,"o":8800},{"s":3,"t":65.1,"o":10200},{"s":3,"t":65.3,"o":11000},{"s":3,"t":65.5,"o":11000},{"s":3,"t":65.7,"o":10500},{"s":3,"t":65.9,"o":10200},{"s":3,"t":66.1,"o":9400},{"s":3,"t":66.3,"o":9000},{"s":3,"t":66.5,"o":8300},{"s":3,"t":66.7,"o":7500},{"s":3,"t":66.9,"o":7100},{"s":3,"t":67.1,"o":6400},{"s":3,"t":67.3,"o":5950},{"s":3,"t":67.5,"o":5950},{"s":3,"t":67.7,"o":7600},{"s":3,"t":67.85,"o":10200},{"s":3,"t":67.95,"o":11000},{"s":3,"t":68.1,"o":9300},{"s":3,"t":68.3,"o":8500},{"s":3,"t":68.5,"o":8000},{"s":3,"t":68.7,"o":7600},{"s":3,"t":68.9,"o":7450},{"s":3,"t":69.1,"o":7200},{"s":3,"t":69.3,"o":7000},{"s":3,"t":69.5,"o":6900},{"s":3,"t":69.7,"o":6700},{"s":3,"t":69.9,"o":6450},{"s":3,"t":70.1,"o":6600},{"s":3,"t":70.3,"o":7500},{"s":3,"t":70.45,"o":7850},{"s":3,"t":70.6,"o":7400},{"s":3,"t":70.8,"o":7200},{"s":3,"t":71.0,"o":7100},{"s":3,"t":71.2,"o":6950},{"s":3,"t":71.4,"o":7000},{"s":3,"t":71.6,"o":7400},{"s":3,"t":71.8,"o":7600},{"s":3,"t":72.0,"o":7300},{"s":3,"t":72.2,"o":6800},{"s":3,"t":72.4,"o":6550},{"s":3,"t":72.6,"o":6300},{"s":3,"t":72.8,"o":6050},{"s":3,"t":73.0,"o":6100},{"s":3,"t":73.2,"o":7200},{"s":3,"t":73.4,"o":8700},{"s":3,"t":73.6,"o":9700},{"s":3,"t":73.8,"o":10000},{"s":3,"t":74.0,"o":9300},{"s":3,"t":74.2,"o":8600},{"s":3,"t":74.4,"o":7400},{"s":3,"t":74.6,"o":6700},{"s":3,"t":74.8,"o":6300},{"s":3,"t":75.0,"o":6150},{"s":3,"t":75.2,"o":6300},{"s":3,"t":75.4,"o":6700},{"s":3,"t":75.6,"o":7100},{"s":3,"t":75.8,"o":7500},{"s":3,"t":76.0,"o":7900},{"s":3,"t":76.2,"o":8800},{"s":3,"t":76.4,"o":9500},{"s":3,"t":76.6,"o":9750},{"s":3,"t":76.8,"o":9500},{"s":3,"t":77.0,"o":9000},{"s":3,"t":77.2,"o":9100},{"s":3,"t":77.4,"o":9700},{"s":3,"t":77.6,"o":9850},{"s":3,"t":77.8,"o":9000},{"s":3,"t":78.0,"o":7500},{"s":3,"t":78.2,"o":7000},{"s":3,"t":78.4,"o":7600},{"s":3,"t":78.6,"o":8100},{"s":3,"t":78.8,"o":7950},{"s":3,"t":79.0,"o":8400},{"s":3,"t":79.2,"o":8700},{"s":3,"t":79.4,"o":8700},{"s":3,"t":79.6,"o":8300},{"s":3,"t":79.8,"o":8200},{"s":3,"t":80.0,"o":8200},{"s":3,"t":80.2,"o":8500},{"s":3,"t":80.4,"o":9000},{"s":3,"t":80.6,"o":9100},{"s":3,"t":80.8,"o":8000},{"s":3,"t":81.0,"o":7200},{"s":3,"t":81.2,"o":6900},{"s":3,"t":81.4,"o":6700},{"s":3,"t":81.6,"o":6600},{"s":3,"t":81.8,"o":6550},{"s":3,"t":82.0,"o":6800},{"s":3,"t":82.2,"o":7200},{"s":3,"t":82.4,"o":7300},{"s":3,"t":82.6,"o":6800},{"s":3,"t":82.8,"o":6200},{"s":3,"t":83.0,"o":5900},{"s":3,"t":83.2,"o":5900},{"s":3,"t":83.4,"o":6000},{"s":3,"t":83.6,"o":6500},{"s":3,"t":83.8,"o":6900},{"s":3,"t":84.0,"o":7000},{"s":3,"t":84.2,"o":6800},{"s":3,"t":84.4,"o":6900},{"s":3,"t":84.6,"o":7200},{"s":3,"t":84.8,"o":7400},{"s":3,"t":85.0,"o":7100},{"s":3,"t":85.2,"o":6800},{"s":3,"t":85.4,"o":7200},{"s":3,"t":85.6,"o":7450},{"s":3,"t":85.8,"o":7100},{"s":3,"t":86.0,"o":6500},{"s":3,"t":86.2,"o":6200},{"s":3,"t":86.4,"o":6100},{"s":3,"t":86.6,"o":5700},{"s":3,"t":86.8,"o":5450},{"s":3,"t":87.0,"o":5400},{"s":3,"t":87.2,"o":6000},{"s":3,"t":87.4,"o":6800},{"s":3,"t":87.6,"o":7200},{"s":3,"t":87.8,"o":7100},{"s":3,"t":88.0,"o":6700},{"s":3,"t":88.2,"o":6500},{"s":3,"t":88.4,"o":6550},{"s":3,"t":88.6,"o":6100},{"s":3,"t":88.8,"o":5800},{"s":3,"t":89.0,"o":5700},{"s":3,"t":89.2,"o":5650},{"s":3,"t":89.4,"o":5900},{"s":3,"t":89.6,"o":6200},{"s":3,"t":89.8,"o":6300},{"s":3,"t":90.0,"o":6500},{"s":3,"t":90.2,"o":6900},{"s":3,"t":90.4,"o":7200},{"s":3,"t":90.6,"o":7100},{"s":3,"t":90.8,"o":6800},{"s":3,"t":91.0,"o":6600},{"s":3,"t":91.2,"o":6700},{"s":3,"t":91.4,"o":6600},{"s":3,"t":91.6,"o":6200},{"s":3,"t":91.8,"o":5900},{"s":3,"t":92.0,"o":5800},{"s":3,"t":92.2,"o":6100},{"s":3,"t":92.4,"o":6400},{"s":3,"t":92.6,"o":6300},{"s":3,"t":92.8,"o":5900},{"s":3,"t":93.0,"o":5700},{"s":3,"t":93.2,"o":5500},{"s":3,"t":93.4,"o":5550},{"s":3,"t":93.6,"o":5500},{"s":3,"t":93.8,"o":5400},{"s":3,"t":94.0,"o":5450},{"s":3,"t":94.2,"o":5300},{"s":3,"t":94.4,"o":5150},{"s":3,"t":94.6,"o":5100},{"s":3,"t":94.8,"o":5500},{"s":3,"t":95.0,"o":6000},{"s":3,"t":95.2,"o":6200},{"s":3,"t":95.4,"o":5900},{"s":3,"t":95.6,"o":6000},{"s":3,"t":95.8,"o":5900},{"s":3,"t":96.0,"o":5600},{"s":3,"t":96.2,"o":5400},{"s":3,"t":96.4,"o":5400},{"s":3,"t":96.6,"o":5800},{"s":3,"t":96.8,"o":6100},{"s":3,"t":97.0,"o":6400},{"s":3,"t":97.2,"o":6450},
{"s":4,"t":97.4,"o":8340},{"s":4,"t":97.6,"o":8000},{"s":4,"t":97.8,"o":7600},{"s":4,"t":98.0,"o":7320},{"s":4,"t":98.25,"o":7150},{"s":4,"t":98.5,"o":6950},{"s":4,"t":98.75,"o":7000},{"s":4,"t":99.0,"o":7300},{"s":4,"t":99.25,"o":7320},{"s":4,"t":99.5,"o":7000},{"s":4,"t":99.75,"o":6800},{"s":4,"t":100.0,"o":6950},{"s":4,"t":100.25,"o":7150},{"s":4,"t":100.5,"o":7200},{"s":4,"t":100.75,"o":7400},{"s":4,"t":101.0,"o":7700},{"s":4,"t":101.25,"o":7950},{"s":4,"t":101.5,"o":7900},{"s":4,"t":101.75,"o":7800},{"s":4,"t":102.0,"o":7830},{"s":4,"t":102.25,"o":8200},{"s":4,"t":102.5,"o":8600},{"s":4,"t":102.75,"o":8500},{"s":4,"t":103.0,"o":8000},{"s":4,"t":103.25,"o":7800},{"s":4,"t":103.5,"o":7700},{"s":4,"t":103.75,"o":7900},{"s":4,"t":104.0,"o":7950},{"s":4,"t":104.25,"o":7830},{"s":4,"t":104.5,"o":7800},{"s":4,"t":104.75,"o":7900},{"s":4,"t":105.0,"o":8000},{"s":4,"t":105.25,"o":7950},{"s":4,"t":105.5,"o":7600},{"s":4,"t":105.75,"o":7320},{"s":4,"t":106.0,"o":7600},{"s":4,"t":106.25,"o":8100},{"s":4,"t":106.5,"o":8250},{"s":4,"t":106.75,"o":8200},{"s":4,"t":107.0,"o":8300},{"s":4,"t":107.25,"o":8600},{"s":4,"t":107.5,"o":9100},{"s":4,"t":107.7,"o":9370},{"s":4,"t":107.9,"o":9000},{"s":4,"t":108.1,"o":8700},{"s":4,"t":108.35,"o":8450},{"s":4,"t":108.6,"o":8100},{"s":4,"t":108.85,"o":7850},{"s":4,"t":109.1,"o":7900},{"s":4,"t":109.35,"o":8200},{"s":4,"t":109.6,"o":8450},{"s":4,"t":109.85,"o":8450},{"s":4,"t":110.1,"o":8500},{"s":4,"t":110.35,"o":8600},{"s":4,"t":110.6,"o":8650},{"s":4,"t":110.85,"o":8800},{"s":4,"t":111.1,"o":9000},{"s":4,"t":111.35,"o":9100},{"s":4,"t":111.6,"o":8900},{"s":4,"t":111.85,"o":8750},{"s":4,"t":112.1,"o":8700},{"s":4,"t":112.35,"o":8600},{"s":4,"t":112.6,"o":8500},{"s":4,"t":112.85,"o":8400},{"s":4,"t":113.1,"o":8200},{"s":4,"t":113.35,"o":8000},{"s":4,"t":113.6,"o":7960},{"s":4,"t":113.85,"o":8150},{"s":4,"t":114.1,"o":8300},{"s":4,"t":114.35,"o":8500},{"s":4,"t":114.6,"o":8750},{"s":4,"t":114.85,"o":8850},{"s":4,"t":115.1,"o":8700},{"s":4,"t":115.35,"o":8550},{"s":4,"t":115.6,"o":8450},{"s":4,"t":115.85,"o":8450},{"s":4,"t":116.1,"o":8400},{"s":4,"t":116.35,"o":8350},{"s":4,"t":116.6,"o":8400},{"s":4,"t":116.85,"o":8550},{"s":4,"t":117.1,"o":8700},{"s":4,"t":117.35,"o":8750},{"s":4,"t":117.6,"o":8800},{"s":4,"t":117.85,"o":8850},{"s":4,"t":118.1,"o":8800},{"s":4,"t":118.35,"o":8550},{"s":4,"t":118.6,"o":8340},{"s":4,"t":118.85,"o":8200},{"s":4,"t":119.1,"o":8100},{"s":4,"t":119.35,"o":8150},{"s":4,"t":119.6,"o":8350},{"s":4,"t":119.85,"o":8480},{"s":4,"t":120.1,"o":8500},{"s":4,"t":120.35,"o":8550},{"s":4,"t":120.6,"o":8600},{"s":4,"t":120.85,"o":8700},{"s":4,"t":121.1,"o":8850},{"s":4,"t":121.35,"o":9050},{"s":4,"t":121.6,"o":9300},{"s":4,"t":121.85,"o":9550},{"s":4,"t":122.1,"o":9630},{"s":4,"t":122.35,"o":9600},{"s":4,"t":122.6,"o":9550},{"s":4,"t":122.85,"o":9500},{"s":4,"t":123.1,"o":9480},{"s":4,"t":123.35,"o":9500},{"s":4,"t":123.6,"o":9450},{"s":4,"t":123.85,"o":9400},{"s":4,"t":124.1,"o":9350},{"s":4,"t":124.35,"o":9200},{"s":4,"t":124.6,"o":8950},{"s":4,"t":124.85,"o":8750},{"s":4,"t":125.1,"o":8700},{"s":4,"t":125.35,"o":8650},{"s":4,"t":125.6,"o":8600},{"s":4,"t":125.85,"o":8650},{"s":4,"t":126.1,"o":8800},{"s":4,"t":126.35,"o":8950},{"s":4,"t":126.6,"o":9100},{"s":4,"t":126.85,"o":9150},{"s":4,"t":127.1,"o":9200},{"s":4,"t":127.35,"o":9250},{"s":4,"t":127.6,"o":9240},{"s":4,"t":127.85,"o":9100},{"s":4,"t":128.1,"o":8950},{"s":4,"t":128.35,"o":8860},{"s":4,"t":128.6,"o":8750},{"s":4,"t":128.85,"o":8650},{"s":4,"t":129.1,"o":8550},{"s":4,"t":129.35,"o":8480},{"s":4,"t":129.6,"o":8470},{"s":4,"t":129.85,"o":8520},{"s":4,"t":130.1,"o":8580},{"s":4,"t":130.35,"o":8650},{"s":4,"t":130.6,"o":8900},{"s":4,"t":130.85,"o":9100},{"s":4,"t":131.1,"o":9200},{"s":4,"t":131.35,"o":9250},{"s":4,"t":131.6,"o":9300},{"s":4,"t":131.85,"o":9350},{"s":4,"t":132.1,"o":9380},{"s":4,"t":132.35,"o":9400},{"s":4,"t":132.6,"o":9450},{"s":4,"t":132.85,"o":9500},{"s":4,"t":133.1,"o":9520},{"s":4,"t":133.35,"o":9550},{"s":4,"t":133.6,"o":9600},{"s":4,"t":133.85,"o":9680},{"s":4,"t":134.1,"o":9760},{"s":4,"t":134.35,"o":9850},{"s":4,"t":134.6,"o":9950},{"s":4,"t":134.85,"o":10020},{"s":4,"t":135.1,"o":9900},{"s":4,"t":135.35,"o":9750},{"s":4,"t":135.6,"o":9650},{"s":4,"t":135.85,"o":9600},{"s":4,"t":136.1,"o":9580},{"s":4,"t":136.35,"o":9550},{"s":4,"t":136.6,"o":9500},{"s":4,"t":136.85,"o":9500},{"s":4,"t":137.1,"o":9550},{"s":4,"t":137.35,"o":9600},{"s":4,"t":137.6,"o":9630},{"s":4,"t":137.85,"o":9600},{"s":4,"t":138.1,"o":9450},{"s":4,"t":138.35,"o":9300},{"s":4,"t":138.6,"o":9200}
],
"diff": [
{"t":4.9,"d":900},{"t":5.1,"d":300},{"t":5.3,"d":-200},{"t":5.5,"d":100},{"t":5.7,"d":-250},{"t":5.9,"d":150},{"t":6.1,"d":-100},{"t":6.3,"d":200},{"t":6.5,"d":-150},{"t":6.7,"d":100},{"t":6.9,"d":250},{"t":7.1,"d":-100},{"t":7.3,"d":150},{"t":7.5,"d":-200},{"t":7.7,"d":-300},{"t":7.9,"d":-350},{"t":8.1,"d":-150},{"t":8.3,"d":50},{"t":8.5,"d":-100},{"t":8.7,"d":-250},{"t":8.85,"d":150},{"t":8.95,"d":-450},{"t":9.05,"d":200},{"t":9.2,"d":-100},{"t":9.4,"d":50},{"t":9.7,"d":0},{"t":10.0,"d":50},{"t":10.3,"d":-50},{"t":10.6,"d":0},{"t":10.9,"d":50},{"t":11.2,"d":-100},{"t":11.5,"d":200},{"t":11.62,"d":450},{"t":11.68,"d":650},{"t":11.72,"d":-300},{"t":11.76,"d":-950},{"t":11.82,"d":200},{"t":12.0,"d":-100},{"t":12.3,"d":50},{"t":12.6,"d":-50},{"t":12.9,"d":0},{"t":13.2,"d":50},{"t":13.5,"d":-100},{"t":13.7,"d":150},{"t":13.9,"d":-50},{"t":14.2,"d":0},{"t":14.5,"d":-100},{"t":14.8,"d":100},{"t":14.95,"d":-300},{"t":15.0,"d":-700},{"t":15.05,"d":250},{"t":15.2,"d":-100},{"t":15.5,"d":50},{"t":15.8,"d":0},{"t":16.1,"d":-50},{"t":16.4,"d":50},{"t":16.7,"d":0},{"t":17.0,"d":-50},{"t":17.3,"d":50},{"t":17.6,"d":-100},{"t":17.9,"d":100},{"t":18.1,"d":250},{"t":18.25,"d":-150},{"t":18.5,"d":50},{"t":18.8,"d":-100},{"t":19.1,"d":100},{"t":19.4,"d":-50},{"t":19.7,"d":0},{"t":20.0,"d":50},{"t":20.3,"d":-50},{"t":20.6,"d":0},{"t":20.9,"d":-100},{"t":21.2,"d":150},{"t":21.45,"d":-400},{"t":21.6,"d":200},{"t":21.8,"d":-500},{"t":22.0,"d":150},{"t":22.2,"d":-200},{"t":22.4,"d":300},{"t":22.55,"d":-350},{"t":22.65,"d":450},{"t":22.8,"d":-200},{"t":22.95,"d":500},{"t":23.1,"d":-300},{"t":23.3,"d":400},{"t":23.5,"d":-200},{"t":23.7,"d":300},{"t":23.95,"d":-250},{"t":24.1,"d":350},{"t":24.3,"d":-150},{"t":24.55,"d":250},{"t":24.8,"d":-200},{"t":25.0,"d":100},{"t":25.3,"d":-100},{"t":25.6,"d":150},{"t":25.9,"d":-50},{"t":26.2,"d":0},{"t":26.5,"d":100},{"t":26.8,"d":-200},{"t":26.95,"d":500},{"t":27.1,"d":-150},{"t":27.3,"d":600},{"t":27.5,"d":-300},{"t":27.7,"d":250},{"t":27.9,"d":-200},{"t":28.1,"d":300},{"t":28.3,"d":-250},{"t":28.37,"d":-700},{"t":28.45,"d":300},{"t":28.7,"d":-100},{"t":29.0,"d":50},{"t":29.3,"d":0},{"t":29.6,"d":-50},{"t":29.9,"d":150},{"t":30.2,"d":-200},{"t":30.5,"d":200},{"t":30.75,"d":-300},{"t":30.9,"d":250},{"t":31.1,"d":-150},{"t":31.4,"d":200},{"t":31.6,"d":-200},{"t":31.9,"d":100},{"t":32.2,"d":-150},{"t":32.4,"d":250},{"t":32.7,"d":-100},{"t":33.0,"d":100},{"t":33.3,"d":-50},{"t":33.6,"d":150},{"t":33.9,"d":-250},{"t":34.1,"d":600},{"t":34.3,"d":-200},{"t":34.6,"d":400},{"t":34.8,"d":-150},{"t":35.1,"d":200},{"t":35.4,"d":-250},{"t":35.6,"d":500},{"t":35.8,"d":-200},{"t":36.1,"d":250},{"t":36.4,"d":-100},{"t":36.7,"d":300},{"t":37.0,"d":-150},{"t":37.3,"d":100},{"t":37.6,"d":-50},{"t":37.9,"d":100},{"t":38.2,"d":-100},{"t":38.5,"d":50},{"t":38.8,"d":-50},{"t":39.1,"d":0},{"t":39.4,"d":-100},{"t":39.7,"d":150},{"t":40.0,"d":-150},{"t":40.3,"d":100},{"t":40.6,"d":-200},{"t":40.9,"d":200},{"t":41.2,"d":-150},{"t":41.5,"d":100},{"t":41.8,"d":-100},{"t":42.1,"d":0},{"t":42.4,"d":150},{"t":42.6,"d":-200},{"t":42.8,"d":1300},{"t":42.95,"d":-300},{"t":43.2,"d":400},{"t":43.5,"d":-150},{"t":43.8,"d":100},{"t":44.1,"d":-50},{"t":44.4,"d":50},{"t":44.7,"d":-100},{"t":45.0,"d":100},{"t":45.3,"d":-200},{"t":45.55,"d":300},{"t":45.7,"d":800},{"t":45.85,"d":-250},{"t":46.1,"d":200},{"t":46.35,"d":-400},{"t":46.6,"d":1500},{"t":46.75,"d":-300},{"t":47.0,"d":150},{"t":47.3,"d":-200},{"t":47.5,"d":400},{"t":47.8,"d":-150},{"t":48.1,"d":100},{"t":48.4,"d":-200},{"t":48.7,"d":200},{"t":49.0,"d":-150},{"t":49.2,"d":700},{"t":49.4,"d":-300},{"t":49.6,"d":500},{"t":49.9,"d":-100},{"t":50.2,"d":150},{"t":50.5,"d":-200},{"t":50.8,"d":300},{"t":51.0,"d":800},{"t":51.2,"d":-200},{"t":51.4,"d":300},{"t":51.7,"d":-250},{"t":52.0,"d":150},{"t":52.3,"d":-100},{"t":52.6,"d":200},{"t":52.9,"d":-150},{"t":53.2,"d":250},{"t":53.5,"d":-200},{"t":53.8,"d":150},{"t":54.1,"d":-150},{"t":54.4,"d":200},{"t":54.7,"d":-100},{"t":55.0,"d":150},{"t":55.3,"d":-250},{"t":55.5,"d":900},{"t":55.7,"d":-500},{"t":55.9,"d":300},{"t":56.1,"d":-200},{"t":56.4,"d":250},{"t":56.7,"d":-150},{"t":57.0,"d":200},{"t":57.3,"d":-200},{"t":57.6,"d":150},{"t":57.9,"d":-300},{"t":58.2,"d":200},{"t":58.5,"d":-150},{"t":58.8,"d":100},{"t":59.1,"d":-100},{"t":59.4,"d":150},{"t":59.7,"d":-100},{"t":60.0,"d":200},{"t":60.3,"d":-150},{"t":60.6,"d":250},{"t":60.9,"d":-200},{"t":61.2,"d":300},{"t":61.5,"d":-100},{"t":61.8,"d":250},{"t":62.1,"d":-250},{"t":62.4,"d":200},{"t":62.7,"d":-150},{"t":63.0,"d":300},{"t":63.3,"d":-200},{"t":63.6,"d":100},{"t":63.9,"d":-150},{"t":64.2,"d":200},{"t":64.5,"d":-100},{"t":64.8,"d":250},{"t":65.1,"d":-150},{"t":65.4,"d":200},{"t":65.7,"d":-100},{"t":66.0,"d":350},{"t":66.3,"d":300},{"t":66.6,"d":-150},{"t":66.9,"d":100},{"t":67.2,"d":-100},{"t":67.5,"d":150},{"t":67.8,"d":-150},{"t":67.95,"d":-500},{"t":68.2,"d":100},{"t":68.5,"d":-100},{"t":68.8,"d":50},{"t":69.1,"d":-150},{"t":69.4,"d":-250},{"t":69.7,"d":-100},{"t":70.0,"d":50},{"t":70.3,"d":0},{"t":70.6,"d":50},{"t":70.9,"d":-50},{"t":71.2,"d":100},{"t":71.5,"d":50},{"t":71.8,"d":150},{"t":72.1,"d":100},{"t":72.4,"d":-50},{"t":72.7,"d":50},{"t":73.0,"d":-100},{"t":73.3,"d":50},{"t":73.6,"d":100},{"t":73.9,"d":-100},{"t":74.2,"d":150},{"t":74.5,"d":0},{"t":74.8,"d":50},{"t":75.1,"d":-50},{"t":75.4,"d":100},{"t":75.7,"d":150},{"t":76.0,"d":-50},{"t":76.3,"d":100},{"t":76.6,"d":150},{"t":76.9,"d":50},{"t":77.2,"d":100},{"t":77.5,"d":-50},{"t":77.8,"d":150},{"t":78.1,"d":50},{"t":78.4,"d":-50},{"t":78.7,"d":100},{"t":79.0,"d":50},{"t":79.3,"d":0},{"t":79.6,"d":100},{"t":79.9,"d":50},{"t":80.2,"d":-50},{"t":80.5,"d":100},{"t":80.8,"d":0},{"t":81.1,"d":-50},{"t":81.4,"d":-100},{"t":81.7,"d":-150},{"t":82.0,"d":-100},{"t":82.3,"d":50},{"t":82.6,"d":0},{"t":82.9,"d":50},{"t":83.2,"d":100},{"t":83.5,"d":50},{"t":83.8,"d":150},{"t":84.1,"d":100},{"t":84.4,"d":50},{"t":84.7,"d":150},{"t":85.0,"d":100},{"t":85.3,"d":150},{"t":85.6,"d":50},{"t":85.9,"d":100},{"t":86.2,"d":0},{"t":86.5,"d":100},{"t":86.8,"d":50},{"t":87.1,"d":150},{"t":87.4,"d":100},{"t":87.7,"d":50},{"t":88.0,"d":150},{"t":88.3,"d":50},{"t":88.6,"d":100},{"t":88.9,"d":150},{"t":89.2,"d":50},{"t":89.5,"d":100},{"t":89.8,"d":0},{"t":90.1,"d":50},{"t":90.4,"d":100},{"t":90.7,"d":150},{"t":91.0,"d":50},{"t":91.3,"d":100},{"t":91.6,"d":150},{"t":91.9,"d":50},{"t":92.2,"d":100},{"t":92.5,"d":0},{"t":92.8,"d":50},{"t":93.1,"d":100},{"t":93.4,"d":50},{"t":93.7,"d":0},{"t":94.0,"d":50},{"t":94.3,"d":100},{"t":94.6,"d":50},{"t":94.9,"d":0},{"t":95.2,"d":50},{"t":95.5,"d":-50},{"t":95.8,"d":0},{"t":96.1,"d":50},{"t":96.4,"d":-50},{"t":96.7,"d":50},{"t":97.0,"d":0},{"t":97.2,"d":-50},{"t":97.4,"d":0},{"t":97.7,"d":50},{"t":98.0,"d":-50},{"t":98.3,"d":50},{"t":98.6,"d":-100},{"t":98.9,"d":0},{"t":99.2,"d":100},{"t":99.5,"d":50},{"t":99.8,"d":-50},{"t":100.1,"d":50},{"t":100.4,"d":100},{"t":100.7,"d":50},{"t":101.0,"d":100},{"t":101.3,"d":150},{"t":101.6,"d":100},{"t":101.9,"d":200},{"t":102.2,"d":50},{"t":102.5,"d":100},{"t":102.8,"d":250},{"t":103.1,"d":150},{"t":103.4,"d":50},{"t":103.7,"d":-50},{"t":104.0,"d":50},{"t":104.3,"d":100},{"t":104.6,"d":0},{"t":104.9,"d":50},{"t":105.2,"d":100},{"t":105.5,"d":200},{"t":105.8,"d":150},{"t":106.1,"d":250},{"t":106.4,"d":100},{"t":106.7,"d":50},{"t":107.0,"d":100},{"t":107.3,"d":50},{"t":107.6,"d":0},{"t":107.9,"d":-100},{"t":108.2,"d":-200},{"t":108.5,"d":-150},{"t":108.8,"d":-50},{"t":109.1,"d":50},{"t":109.4,"d":0},{"t":109.7,"d":50},{"t":110.0,"d":-50},{"t":110.3,"d":50},{"t":110.6,"d":100},{"t":110.9,"d":50},{"t":111.2,"d":100},{"t":111.5,"d":0},{"t":111.8,"d":50},{"t":112.1,"d":100},{"t":112.4,"d":50},{"t":112.7,"d":0},{"t":113.0,"d":-100},{"t":113.3,"d":-200},{"t":113.6,"d":-250},{"t":113.9,"d":-150},{"t":114.2,"d":-50},{"t":114.5,"d":50},{"t":114.8,"d":0},{"t":115.1,"d":50},{"t":115.4,"d":100},{"t":115.7,"d":50},{"t":116.0,"d":0},{"t":116.3,"d":50},{"t":116.6,"d":100},{"t":116.9,"d":50},{"t":117.2,"d":0},{"t":117.5,"d":50},{"t":117.8,"d":100},{"t":118.1,"d":50},{"t":118.4,"d":0},{"t":118.7,"d":-50},{"t":119.0,"d":50},{"t":119.3,"d":100},{"t":119.6,"d":50},{"t":119.9,"d":0},{"t":120.2,"d":50},{"t":120.5,"d":100},{"t":120.8,"d":50},{"t":121.1,"d":100},{"t":121.4,"d":150},{"t":121.7,"d":200},{"t":122.0,"d":300},{"t":122.3,"d":250},{"t":122.6,"d":300},{"t":122.9,"d":200},{"t":123.2,"d":250},{"t":123.5,"d":150},{"t":123.8,"d":200},{"t":124.1,"d":100},{"t":124.4,"d":150},{"t":124.7,"d":50},{"t":125.0,"d":100},{"t":125.3,"d":50},{"t":125.6,"d":0},{"t":125.9,"d":-50},{"t":126.2,"d":0},{"t":126.5,"d":50},{"t":126.8,"d":-50},{"t":127.1,"d":0},{"t":127.4,"d":50},{"t":127.7,"d":0},{"t":128.0,"d":-50},{"t":128.3,"d":0},{"t":128.6,"d":-50},{"t":128.9,"d":-100},{"t":129.2,"d":-150},{"t":129.5,"d":-200},{"t":129.8,"d":-250},{"t":130.1,"d":-200},{"t":130.4,"d":-100},{"t":130.7,"d":0},{"t":131.0,"d":50},{"t":131.3,"d":100},{"t":131.6,"d":50},{"t":131.9,"d":100},{"t":132.2,"d":150},{"t":132.5,"d":100},{"t":132.8,"d":50},{"t":133.1,"d":100},{"t":133.4,"d":50},{"t":133.7,"d":0},{"t":134.0,"d":100},{"t":134.3,"d":150},{"t":134.6,"d":100},{"t":134.9,"d":50},{"t":135.2,"d":100},{"t":135.5,"d":50},{"t":135.8,"d":100},{"t":136.1,"d":50},{"t":136.4,"d":0},{"t":136.7,"d":50},{"t":137.0,"d":100},{"t":137.3,"d":50},{"t":137.6,"d":100},{"t":137.9,"d":50},{"t":138.2,"d":0},{"t":138.5,"d":50}
],
"k1": [{"p":9.11},{"p":11.83},{"p":13.72},{"p":13.93},{"p":15.06},{"p":18.24},{"p":19.07},{"p":21.75},{"p":22.63},{"p":23.13},{"p":23.55},{"p":23.89},{"p":24.1},{"p":24.39},{"p":24.81},{"p":25.86},{"p":27.19},{"p":27.45},{"p":27.74},{"p":28.03},{"p":28.37},{"p":28.66},{"p":30.25},{"p":30.5},{"p":30.79},{"p":31.09},{"p":31.38},{"p":31.71},{"p":32.01},{"p":32.34},{"p":32.68},{"p":33.18},{"p":34.31},{"p":34.64},{"p":35.69},{"p":35.9},{"p":36.19},{"p":36.45},{"p":36.74},{"p":37.03},{"p":37.28},{"p":37.58},{"p":37.8},{"p":38.0},{"p":38.29},{"p":38.62},{"p":39.46}],
"k2": [{"p":37.6},{"p":37.75},{"p":37.9},{"p":38.05},{"p":38.2},{"p":38.35},{"p":38.5},{"p":38.65},{"p":38.8},{"p":38.95},{"p":39.1},{"p":39.25},{"p":39.4},{"p":39.55},{"p":40.3},{"p":40.55},{"p":40.8},{"p":41.0},{"p":41.25},{"p":41.45},{"p":41.7},{"p":41.95},{"p":42.2},{"p":42.45},{"p":42.75},{"p":43.0},{"p":43.5},{"p":43.75},{"p":44.0},{"p":44.5},{"p":44.9},{"p":45.3},{"p":45.7},{"p":45.85},{"p":46.0},{"p":46.15},{"p":46.3},{"p":46.45},{"p":46.6},{"p":46.75},{"p":46.9},{"p":47.4},{"p":47.7},{"p":47.9},{"p":48.1},{"p":48.35},{"p":48.6},{"p":48.8},{"p":49.0},{"p":49.3},{"p":49.55},{"p":49.8},{"p":50.05},{"p":50.3},{"p":50.5},{"p":50.75},{"p":51.0},{"p":51.25},{"p":51.5},{"p":51.75},{"p":52.0},{"p":52.3},{"p":52.55},{"p":52.9},{"p":53.2},{"p":53.4},{"p":53.6},{"p":53.85},{"p":54.3},{"p":54.5},{"p":54.7},{"p":54.9},{"p":55.1},{"p":55.3},{"p":55.55},{"p":55.75},{"p":55.95},{"p":56.15},{"p":56.35},{"p":56.55},{"p":56.75},{"p":56.95},{"p":57.15},{"p":57.35},{"p":57.55},{"p":57.75},{"p":57.95},{"p":58.15},{"p":58.3},{"p":58.45},{"p":58.6},{"p":58.75},{"p":58.9},{"p":59.05},{"p":59.2},{"p":59.35},{"p":59.5},{"p":59.65},{"p":59.8},{"p":59.95},{"p":60.1},{"p":60.25},{"p":60.4}],
"k3": [{"p":58.4},{"p":58.8},{"p":59.2},{"p":59.6},{"p":60.0},{"p":60.35},{"p":60.8},{"p":61.3},{"p":61.7},{"p":62.2},{"p":62.6},{"p":63.0},{"p":63.5},{"p":63.9},{"p":64.4},{"p":64.8},{"p":65.3},{"p":65.8},{"p":66.2},{"p":66.6},{"p":67.1},{"p":67.6},{"p":68.0},{"p":68.4},{"p":68.9},{"p":69.4},{"p":69.8},{"p":70.2},{"p":70.7},{"p":71.2},{"p":71.6},{"p":72.0},{"p":72.5},{"p":73.0},{"p":73.4},{"p":73.8},{"p":74.3},{"p":74.8},{"p":75.2},{"p":75.6},{"p":76.1},{"p":76.6},{"p":77.0},{"p":77.4},{"p":77.9},{"p":78.4},{"p":78.8},{"p":79.2},{"p":79.7},{"p":80.2},{"p":80.6},{"p":81.0},{"p":81.5},{"p":82.0},{"p":82.4},{"p":82.8},{"p":83.3},{"p":83.8},{"p":84.2},{"p":84.6},{"p":85.1},{"p":85.6},{"p":86.0},{"p":86.4},{"p":86.9},{"p":87.4},{"p":87.8},{"p":88.2},{"p":88.7},{"p":89.2},{"p":89.6},{"p":90.0},{"p":90.5},{"p":91.0},{"p":91.4},{"p":91.8},{"p":92.3},{"p":92.8},{"p":93.2},{"p":93.6},{"p":94.1},{"p":94.6},{"p":95.0},{"p":95.4},{"p":95.9},{"p":96.4},{"p":96.8},{"p":97.2},{"p":97.7},{"p":98.0}],
"k4": [{"p":96.1},{"p":96.5},{"p":96.9},{"p":97.3},{"p":97.7},{"p":98.1},{"p":98.6},{"p":99.0},{"p":99.4},{"p":99.9},{"p":100.4},{"p":100.8},{"p":101.2},{"p":101.7},{"p":102.2},{"p":102.6},{"p":103.0},{"p":103.5},{"p":104.0},{"p":104.4},{"p":104.8},{"p":105.3},{"p":105.8},{"p":106.2},{"p":106.6},{"p":107.1},{"p":107.6},{"p":108.0},{"p":108.4},{"p":108.9},{"p":109.4},{"p":109.8},{"p":110.2},{"p":110.7},{"p":111.2},{"p":111.6},{"p":112.0},{"p":112.5},{"p":113.0},{"p":113.4},{"p":113.8},{"p":114.3},{"p":114.8},{"p":115.2},{"p":115.6},{"p":116.1},{"p":116.6},{"p":117.0},{"p":117.4},{"p":117.9},{"p":118.4},{"p":118.8},{"p":119.2},{"p":119.7},{"p":120.2},{"p":120.6},{"p":121.0},{"p":121.5},{"p":122.0},{"p":122.4},{"p":122.8},{"p":123.3},{"p":123.8},{"p":124.2},{"p":124.6},{"p":125.1},{"p":125.6},{"p":126.0},{"p":126.4},{"p":126.9},{"p":127.4},{"p":127.8},{"p":128.2},{"p":128.7},{"p":129.2},{"p":129.6},{"p":130.0},{"p":130.5},{"p":131.0},{"p":131.4},{"p":131.8},{"p":132.3},{"p":132.8},{"p":133.2},{"p":133.6},{"p":134.1},{"p":134.6},{"p":135.0},{"p":135.4},{"p":135.9},{"p":136.4},{"p":136.8},{"p":137.2},{"p":137.7},{"p":138.2},{"p":138.6}]
},
"layer": [
{"data": {"name": "obs"},
 "mark": {"type": "line", "color": "black", "strokeWidth": 1.3, "clip": true},
 "encoding": {
  "x": {"field": "t", "type": "quantitative", "title": "2θ, deg", "scale": {"domain": [4.84, 138.6], "nice": false, "zero": false},
   "axis": {"values": [5,10,15,20,25,30,35,40,45,50,55,60,65,70,75,80,85,90,95,100,105,110,115,120,125,130,135], "tickCount": 200,
    "labelExpr": "datum.value == 5 ? '0' : (datum.value % 20 == 0 ? '' + datum.value : '')",
    "tickSize": 6, "labelPadding": 3, "titleBaseline": "alphabetic", "titleY": 53}},
  "y": {"field": "o", "type": "quantitative", "title": "Intensity", "scale": {"domain": [-3980, 53180], "nice": false, "zero": false},
   "axis": {"values": [-3750,-2500,-1250,0,1250,2500,3750,5000,6250,7500,8750,10000,11250,12500,13750,15000,16250,17500,18750,20000,21250,22500,23750,25000,26250,27500,28750,30000,31250,32500,33750,35000,36250,37500,38750,40000,41250,42500,43750,45000,46250,47500,48750,50000,51250,52500], "tickCount": 200,
    "labelExpr": "datum.value % 5000 == 0 ? (datum.value == 0 ? '0' : (datum.value == 5000 ? '5000' : floor(datum.value / 1000) + ',000')) : ''",
    "tickSize": 7, "labelPadding": 5, "titleAngle": -90, "titleAlign": "center", "titleBaseline": "middle", "titleX": -91, "titleY": 359}},
  "detail": {"field": "s", "type": "nominal"}
 }},
{"data": {"name": "one"}, "mark": {"type": "rule", "color": "black", "strokeWidth": 1.3}, "encoding": {"y": {"datum": 0, "title": "Intensity"}}},
{"data": {"name": "diff"},
 "mark": {"type": "line", "color": "black", "strokeWidth": 1.5},
 "encoding": {"x": {"field": "t", "type": "quantitative", "title": "2θ, deg"}, "y": {"field": "d", "type": "quantitative", "title": "Intensity"}}},
{"data": {"name": "k1"}, "mark": {"type": "rule", "color": "black", "strokeWidth": 1.5},
 "encoding": {"x": {"field": "p", "type": "quantitative", "title": "2θ, deg"}, "y": {"datum": -1338, "title": "Intensity"}, "y2": {"datum": -2108}}},
{"data": {"name": "k2"}, "mark": {"type": "rule", "color": "black", "strokeWidth": 1.5},
 "encoding": {"x": {"field": "p", "type": "quantitative", "title": "2θ, deg"}, "y": {"datum": -1977, "title": "Intensity"}, "y2": {"datum": -2671}}},
{"data": {"name": "k3"}, "mark": {"type": "rule", "color": "black", "strokeWidth": 3.4},
 "encoding": {"x": {"field": "p", "type": "quantitative", "title": "2θ, deg"}, "y": {"datum": -2671, "title": "Intensity"}, "y2": {"datum": -3287}}},
{"data": {"name": "k4"}, "mark": {"type": "rule", "color": "black", "strokeWidth": 3.4},
 "encoding": {"x": {"field": "p", "type": "quantitative", "title": "2θ, deg"}, "y": {"datum": -3210, "title": "Intensity"}, "y2": {"datum": -3980}}},
{"data": {"name": "obs"},
 "mark": {"type": "point", "shape": "circle", "filled": true, "fill": "white", "stroke": "black", "strokeWidth": 1, "size": 21, "opacity": 1, "fillOpacity": 1, "strokeOpacity": 1},
 "encoding": {"x": {"field": "t", "type": "quantitative", "title": "2θ, deg"}, "y": {"field": "o", "type": "quantitative", "title": "Intensity"}}},
{"data": {"name": "one"}, "mark": {"type": "text", "text": "0.016°/5 s", "font": "Liberation Serif", "fontSize": 24, "align": "center", "baseline": "alphabetic", "color": "black"},
 "encoding": {"x": {"datum": 32.76, "title": "2θ, deg"}, "y": {"datum": 50584, "title": "Intensity"}}},
{"data": {"name": "one"}, "mark": {"type": "text", "text": "R", "font": "Liberation Serif", "fontStyle": "italic", "fontSize": 24, "align": "left", "baseline": "alphabetic", "color": "black"},
 "encoding": {"x": {"datum": 25.44, "title": "2θ, deg"}, "y": {"datum": 48481, "title": "Intensity"}}},
{"data": {"name": "one"}, "mark": {"type": "text", "text": "B", "font": "Liberation Serif", "fontSize": 18, "align": "left", "baseline": "alphabetic", "color": "black", "dx": 14, "dy": 7},
 "encoding": {"x": {"datum": 25.44, "title": "2θ, deg"}, "y": {"datum": 48481, "title": "Intensity"}}},
{"data": {"name": "one"}, "mark": {"type": "text", "text": "= 0.84%", "font": "Liberation Serif", "fontSize": 24, "align": "left", "baseline": "alphabetic", "color": "black", "dx": 30},
 "encoding": {"x": {"datum": 25.44, "title": "2θ, deg"}, "y": {"datum": 48481, "title": "Intensity"}}},
{"data": {"name": "one"}, "mark": {"type": "text", "text": "Overall", "font": "Liberation Serif", "fontSize": 23, "align": "left", "baseline": "alphabetic", "color": "black"},
 "encoding": {"x": {"datum": 90.75, "title": "2θ, deg"}, "y": {"datum": 45400, "title": "Intensity"}}},
{"data": {"name": "one"}, "mark": {"type": "text", "text": "R", "font": "Liberation Serif", "fontStyle": "italic", "fontSize": 24, "align": "left", "baseline": "alphabetic", "color": "black", "dx": 74},
 "encoding": {"x": {"datum": 90.75, "title": "2θ, deg"}, "y": {"datum": 45400, "title": "Intensity"}}},
{"data": {"name": "one"}, "mark": {"type": "text", "text": "wp", "font": "Liberation Serif", "fontSize": 21, "align": "left", "baseline": "alphabetic", "color": "black", "dx": 88, "dy": 1},
 "encoding": {"x": {"datum": 90.75, "title": "2θ, deg"}, "y": {"datum": 45400, "title": "Intensity"}}},
{"data": {"name": "one"}, "mark": {"type": "text", "text": "= 2.434%", "font": "Liberation Serif", "fontSize": 24, "align": "left", "baseline": "alphabetic", "color": "black", "dx": 119},
 "encoding": {"x": {"datum": 90.75, "title": "2θ, deg"}, "y": {"datum": 45400, "title": "Intensity"}}},
{"data": {"name": "one"}, "mark": {"type": "text", "text": "Overall", "font": "Liberation Serif", "fontSize": 23, "align": "left", "baseline": "alphabetic", "color": "black"},
 "encoding": {"x": {"datum": 90.75, "title": "2θ, deg"}, "y": {"datum": 43220, "title": "Intensity"}}},
{"data": {"name": "one"}, "mark": {"type": "text", "text": "GOOF", "font": "Liberation Serif", "fontStyle": "italic", "fontSize": 25, "align": "left", "baseline": "alphabetic", "color": "black", "dx": 74},
 "encoding": {"x": {"datum": 90.75, "title": "2θ, deg"}, "y": {"datum": 43220, "title": "Intensity"}}},
{"data": {"name": "one"}, "mark": {"type": "text", "text": "= 2097", "font": "Liberation Serif", "fontSize": 24, "align": "left", "baseline": "alphabetic", "color": "black", "dx": 148},
 "encoding": {"x": {"datum": 90.75, "title": "2θ, deg"}, "y": {"datum": 43220, "title": "Intensity"}}},
{"data": {"name": "one"}, "mark": {"type": "text", "text": "0.024°/10 s", "font": "Liberation Serif", "fontSize": 24, "align": "center", "baseline": "alphabetic", "color": "black"},
 "encoding": {"x": {"datum": 50.68, "title": "2θ, deg"}, "y": {"datum": 21210, "title": "Intensity"}}},
{"data": {"name": "one"}, "mark": {"type": "text", "text": "R", "font": "Liberation Serif", "fontStyle": "italic", "fontSize": 24, "align": "left", "baseline": "alphabetic", "color": "black"},
 "encoding": {"x": {"datum": 43.4, "title": "2θ, deg"}, "y": {"datum": 19100, "title": "Intensity"}}},
{"data": {"name": "one"}, "mark": {"type": "text", "text": "B", "font": "Liberation Serif", "fontSize": 18, "align": "left", "baseline": "alphabetic", "color": "black", "dx": 14, "dy": 7},
 "encoding": {"x": {"datum": 43.4, "title": "2θ, deg"}, "y": {"datum": 19100, "title": "Intensity"}}},
{"data": {"name": "one"}, "mark": {"type": "text", "text": "− 0.80%", "font": "Liberation Serif", "fontSize": 24, "align": "left", "baseline": "alphabetic", "color": "black", "dx": 31},
 "encoding": {"x": {"datum": 43.4, "title": "2θ, deg"}, "y": {"datum": 19100, "title": "Intensity"}}},
{"data": {"name": "one"}, "mark": {"type": "text", "text": "0.032°/15 s", "font": "Liberation Serif", "fontSize": 24, "align": "center", "baseline": "alphabetic", "color": "black"},
 "encoding": {"x": {"datum": 78.29, "title": "2θ, deg"}, "y": {"datum": 16951, "title": "Intensity"}}},
{"data": {"name": "one"}, "mark": {"type": "text", "text": "R", "font": "Liberation Serif", "fontStyle": "italic", "fontSize": 24, "align": "left", "baseline": "alphabetic", "color": "black"},
 "encoding": {"x": {"datum": 71.28, "title": "2θ, deg"}, "y": {"datum": 14894, "title": "Intensity"}}},
{"data": {"name": "one"}, "mark": {"type": "text", "text": "B", "font": "Liberation Serif", "fontSize": 18, "align": "left", "baseline": "alphabetic", "color": "black", "dx": 14, "dy": 7},
 "encoding": {"x": {"datum": 71.28, "title": "2θ, deg"}, "y": {"datum": 14894, "title": "Intensity"}}},
{"data": {"name": "one"}, "mark": {"type": "text", "text": "= 0.99%", "font": "Liberation Serif", "fontSize": 24, "align": "left", "baseline": "alphabetic", "color": "black", "dx": 30},
 "encoding": {"x": {"datum": 71.28, "title": "2θ, deg"}, "y": {"datum": 14894, "title": "Intensity"}}},
{"data": {"name": "one"}, "mark": {"type": "text", "text": "0.04°/20 s", "font": "Liberation Serif", "fontSize": 24, "align": "center", "baseline": "alphabetic", "color": "black"},
 "encoding": {"x": {"datum": 121.08, "title": "2θ, deg"}, "y": {"datum": 16951, "title": "Intensity"}}},
{"data": {"name": "one"}, "mark": {"type": "text", "text": "R", "font": "Liberation Serif", "fontStyle": "italic", "fontSize": 24, "align": "left", "baseline": "alphabetic", "color": "black"},
 "encoding": {"x": {"datum": 112.98, "title": "2θ, deg"}, "y": {"datum": 14894, "title": "Intensity"}}},
{"data": {"name": "one"}, "mark": {"type": "text", "text": "B", "font": "Liberation Serif", "fontSize": 18, "align": "left", "baseline": "alphabetic", "color": "black", "dx": 14, "dy": 7},
 "encoding": {"x": {"datum": 112.98, "title": "2θ, deg"}, "y": {"datum": 14894, "title": "Intensity"}}},
{"data": {"name": "one"}, "mark": {"type": "text", "text": "= 0.77%", "font": "Liberation Serif", "fontSize": 24, "align": "left", "baseline": "alphabetic", "color": "black", "dx": 30},
 "encoding": {"x": {"datum": 112.98, "title": "2θ, deg"}, "y": {"datum": 14894, "title": "Intensity"}}}
]
}
